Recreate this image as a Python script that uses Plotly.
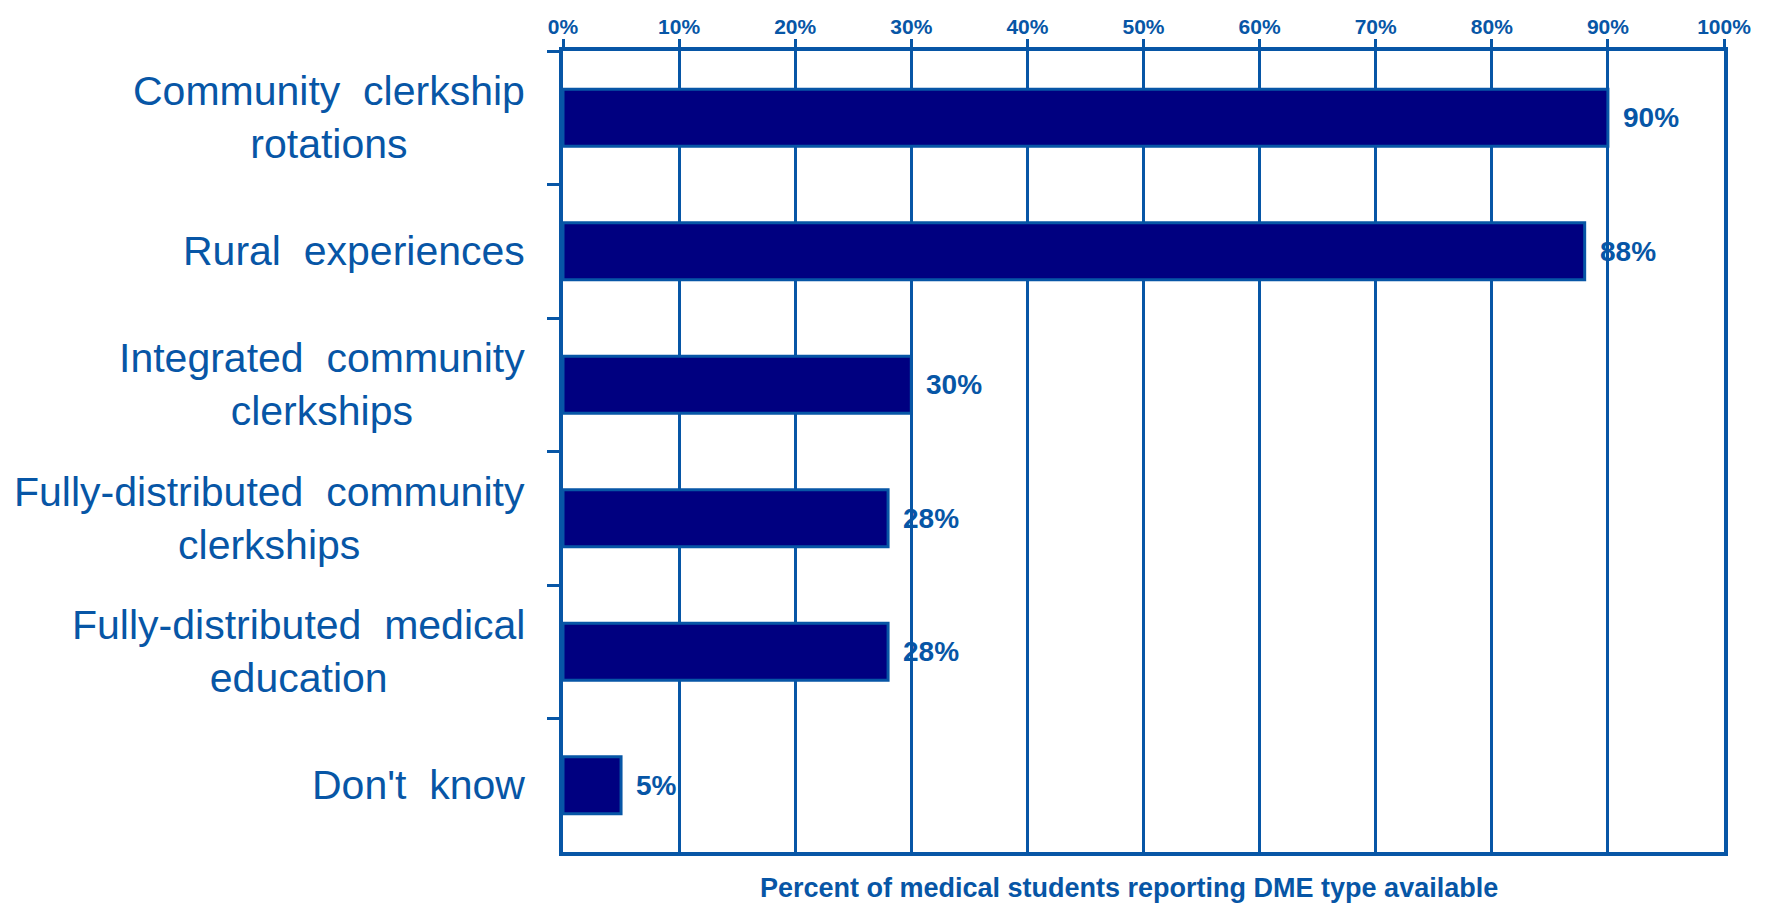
import plotly.graph_objects as go

categories = [
    "Community&nbsp; clerkship<br>rotations",
    "Rural&nbsp; experiences",
    "Integrated&nbsp; community<br>clerkships",
    "Fully-distributed&nbsp; community<br>clerkships",
    "Fully-distributed&nbsp; medical<br>education",
    "Don't&nbsp; know",
]
values = [90, 88, 30, 28, 28, 5]
value_labels = ["90%", "88%", "30%", "28%", "28%", "5%"]
x_title = "Percent of medical students reporting DME type available"

BLUE = "#0756A6"
NAVY = "#000080"
FONT = "Liberation Sans, Arial, sans-serif"

fig = go.Figure()
fig.add_trace(go.Bar(
    x=values, y=categories, orientation="h",
    marker=dict(color=NAVY, line=dict(color=BLUE, width=3)),
    hoverinfo="skip",
))

annotations = []
for c, v, t in zip(categories, values, value_labels):
    annotations.append(dict(
        x=v, y=c, xref="x", yref="y", text=t, showarrow=False,
        xanchor="left", yanchor="middle", xshift=13,
        font=dict(family=FONT, size=28, color=BLUE, weight="bold"),
    ))
    annotations.append(dict(
        x=0, y=c, xref="x", yref="y", text=c, showarrow=False,
        xanchor="right", yanchor="middle", xshift=-36, align="center",
        font=dict(family=FONT, size=41, color=BLUE),
    ))
annotations.append(dict(
    x=0.5, y=0, xref="paper", yref="paper", text=x_title, showarrow=False,
    xanchor="center", yanchor="middle", yshift=-36, xshift=-15,
    font=dict(family=FONT, size=27, color=BLUE, weight="bold"),
))

fig.update_layout(
    width=1773, height=903,
    margin=dict(l=563, r=49, t=51, b=51),
    paper_bgcolor="white", plot_bgcolor="white",
    bargap=0.573,
    showlegend=False,
    annotations=annotations,
    xaxis=dict(
        side="top", range=[0, 100], dtick=10, ticksuffix="%",
        showgrid=True, gridcolor=BLUE, gridwidth=3,
        showline=True, linecolor=BLUE, linewidth=4, mirror=True,
        ticks="outside", ticklen=8, tickwidth=3, tickcolor=BLUE,
        ticklabelstandoff=-3,
        tickfont=dict(family=FONT, size=21, color=BLUE, weight="bold"),
        zeroline=False, fixedrange=True,
    ),
    yaxis=dict(
        autorange="reversed", showticklabels=False,
        showline=True, linecolor=BLUE, linewidth=4, mirror=True,
        ticks="outside", ticklen=12, tickwidth=3, tickcolor=BLUE,
        tickson="boundaries", showgrid=False, fixedrange=True,
    ),
)

fig.write_html(
    "out.html",
    config={"displayModeBar": False},
    post_script="document.body.style.margin='0';document.body.style.overflow='hidden';",
)
